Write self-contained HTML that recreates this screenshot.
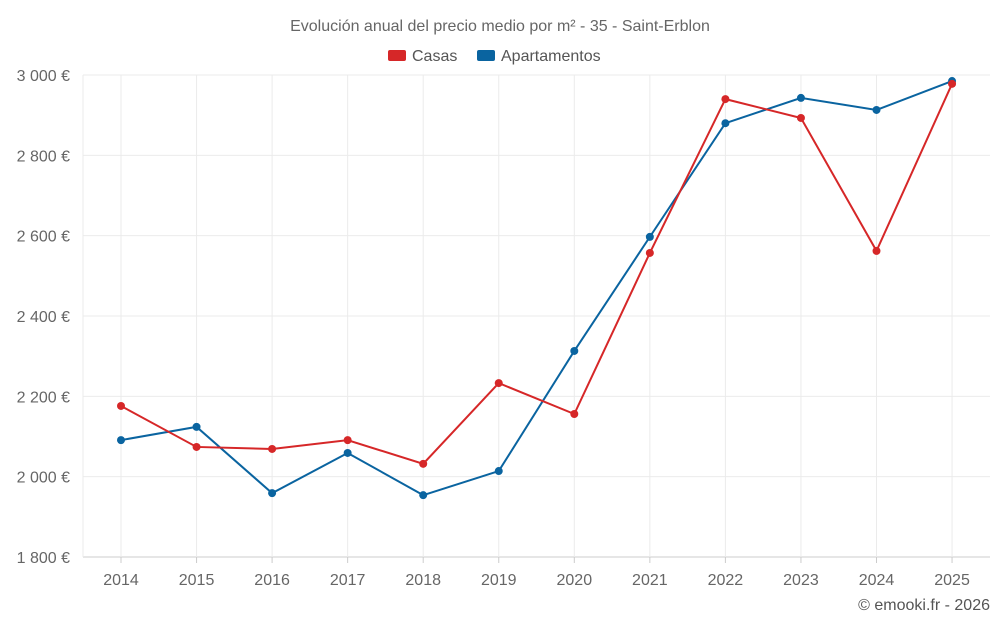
<!DOCTYPE html>
<html><head><meta charset="utf-8"><style>
body{margin:0;background:#fff;font-family:"Liberation Sans",sans-serif}
svg text{font-family:"Liberation Sans",sans-serif}
</style></head><body>
<svg id="c" width="1000" height="625"></svg>
<script>
const years=["2014","2015","2016","2017","2018","2019","2020","2021","2022","2023","2024","2025"];
const casas=[2176,2074,2069,2091,2032,2233,2156,2557,2940,2893,2562,2978];
const apartamentos=[2091,2124,1959,2059,1954,2014,2313,2597,2880,2943,2913,2985];
const yTicks=[1800,2000,2200,2400,2600,2800,3000];
const yTickLabels=["1 800 €","2 000 €","2 200 €","2 400 €","2 600 €","2 800 €","3 000 €"];
const NS="http://www.w3.org/2000/svg";
const svg=document.getElementById('c');
const L=83,R=990,T=75,B=557,x0=121,dx=75.55;
const xs=i=>x0+i*dx;
const ys=v=>B-(v-1800)/1200*(B-T);
function el(t,a,p){const e=document.createElementNS(NS,t);for(const k in a)e.setAttribute(k,a[k]);(p||svg).appendChild(e);return e;}
let t=el('text',{x:500,y:31,'text-anchor':'middle','font-size':16,fill:'#666'});t.textContent="Evolución anual del precio medio por m² - 35 - Saint-Erblon";


const legend=[["Casas","#d62728",388],["Apartamentos","#0a64a0",477]];
legend.forEach(([n,c,x])=>{const g=el('g',{});


el('rect',{x:x,y:50,width:18,height:11,fill:c,rx:2},g);
const tt=el('text',{x:x+24,y:61,'font-size':16,fill:'#555'},g);tt.textContent=n;});
yTicks.forEach((v,i)=>{const y=ys(v);
const l=el('line',{x1:L,x2:R,y1:y,y2:y,stroke:i==0?'#ccc':'#ebebeb'});


const tx=el('text',{x:70,y:y+6,'text-anchor':'end','font-size':16,fill:'#666'});tx.textContent=yTickLabels[i];

});
el('line',{x1:L,x2:L,y1:T,y2:B,stroke:'#ebebeb'});
years.forEach((yr,i)=>{const x=xs(i);
const l=el('line',{x1:x,x2:x,y1:T,y2:B,stroke:'#ebebeb'});


el('line',{x1:x,x2:x,y1:B,y2:B+6,stroke:'#ccc'});
const tx=el('text',{x:x,y:585,'text-anchor':'middle','font-size':16,fill:'#666'});tx.textContent=yr;

});
function series(d,c,name){
const p=el('polyline',{points:d.map((v,i)=>xs(i)+','+ys(v)).join(' '),fill:'none',stroke:c,'stroke-width':2});


d.forEach((v,i)=>{const m=el('circle',{cx:xs(i),cy:ys(v),r:4,fill:c});

});}
series(apartamentos,'#0a64a0','apartamentos');
series(casas,'#d62728','casas');
t=el('text',{x:990,y:610,'text-anchor':'end','font-size':16,fill:'#555'});t.textContent="© emooki.fr - 2026";


</script>
</body></html>
